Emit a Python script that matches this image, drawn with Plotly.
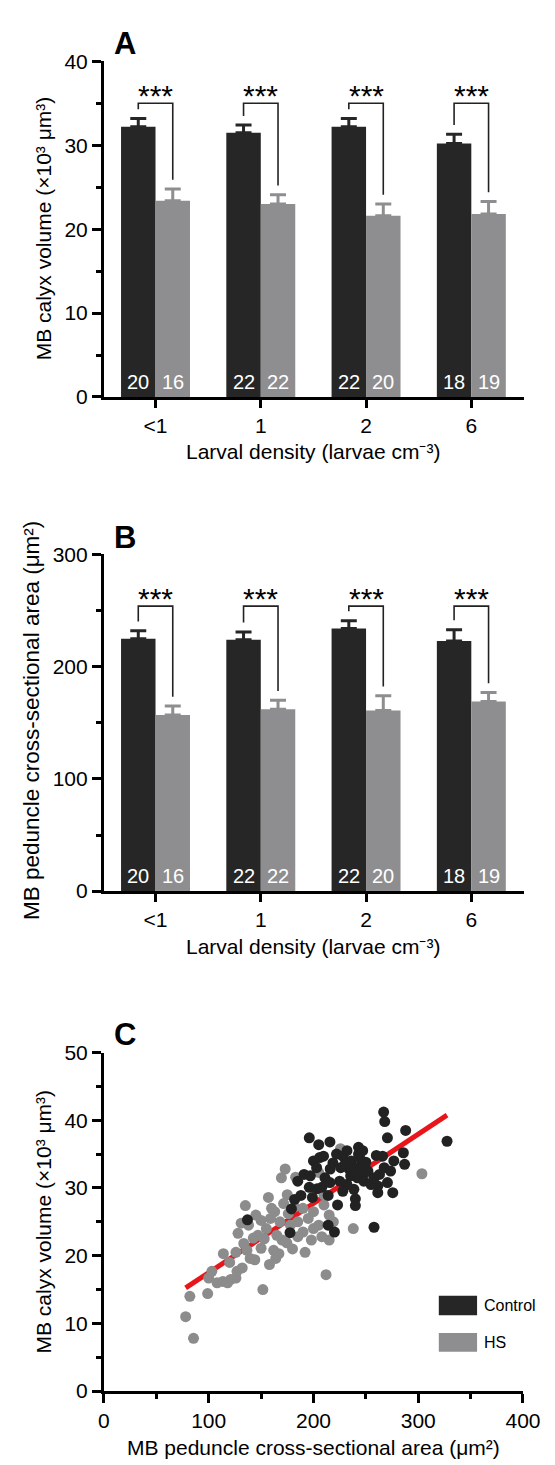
import plotly.graph_objects as go

W, H = 555, 1465

# ---------------- data ----------------
categories = ["<1", "1", "2", "6"]
n_control = [20, 22, 22, 18]
n_hs = [16, 22, 20, 19]
significance = ["***", "***", "***", "***"]

calyx_control = [32.2, 31.5, 32.2, 30.2]
calyx_control_err = [1.0, 0.9, 1.0, 1.1]
calyx_hs = [23.4, 23.0, 21.6, 21.8]
calyx_hs_err = [1.4, 1.1, 1.4, 1.5]

peduncle_control = [225, 224, 234, 223]
peduncle_control_err = [7, 7, 7, 10]
peduncle_hs = [157, 162, 161, 169]
peduncle_hs_err = [8, 8, 13, 8]

control_x = [196, 205, 206, 191, 197, 196, 203.5, 188, 182, 137, 177.6, 179,
             267, 268, 288, 270.6, 215.7, 327.5, 243, 285.8, 209.6, 228, 260, 266,
             276.7, 287, 243, 246, 249, 218.6, 216, 234, 211, 225, 235.5, 267.5,
             273.6, 261.4, 270.6, 275.7, 208, 215.7, 238.6, 261.4, 240, 240, 199,
             214, 214, 220, 257.8, 230, 232, 236, 238, 240, 242, 244, 245, 247, 248,
             250, 252, 226, 222, 200, 255, 258, 263, 232, 228, 185, 223, 203]
control_y = [37.4, 36.4, 34.5, 32.0, 31.8, 30.1, 29.9, 28.9, 28.3, 25.3, 23.4, 26.9,
             41.2, 39.8, 38.5, 37.4, 36.8, 36.9, 36.0, 35.2, 34.7, 34.7, 34.8, 34.7,
             34.0, 33.5, 35.0, 33.5, 32.3, 33.7, 32.8, 32.8, 31.5, 31.0, 31.8, 33.0,
             32.5, 30.3, 30.8, 29.3, 30.1, 30.8, 29.8, 29.3, 28.4, 27.4, 28.6,
             28.9, 24.5, 23.5, 24.2, 33.5, 35.5, 34.0, 32.0, 33.0, 31.5, 34.5, 32.8, 35.5, 31.0,
             33.8, 32.5, 33.0, 35.0, 34.0, 30.5, 31.5, 32.0, 30.5, 29.5, 31.0, 27.5, 33.0]

hs_x = [78, 85.5, 82, 99, 100, 103, 113.6, 121, 126, 114, 126, 133.5, 136.5, 127,
        132, 139.6, 144, 150, 151.7, 155, 159, 147, 142.6, 128, 131, 135, 162, 164,
        158, 170, 174.6, 176, 185, 198, 215, 212, 173, 169.4, 183, 157, 171.5, 182,
        150, 205, 225.8, 254.7, 303.5, 238, 108, 118, 190, 195, 200, 205, 210, 215,
        190, 200, 208, 219, 185, 178, 168, 165, 163, 160, 175, 120, 138, 145, 153,
        180, 192, 167, 210]
hs_y = [11.0, 7.8, 14.0, 14.4, 16.7, 17.7, 16.2, 16.5, 16.7, 20.3, 20.5, 21.8, 20.8, 17.7,
        18.2, 19.6, 19.4, 21.1, 15.0, 24.0, 25.5, 23.0, 22.6, 23.3, 24.8, 27.4, 20.8, 19.6,
        18.7, 22.3, 21.9, 26.2, 22.8, 22.3, 22.3, 17.2, 32.8, 31.5, 31.6, 28.6, 27.7, 27.2,
        25.2, 32.3, 35.8, 31.3, 32.1, 24.0, 16.0, 16.0, 27.0, 25.5, 26.5, 24.5, 27.5, 26.0,
        23.5, 24.0, 22.8, 25.0, 25.0, 24.5, 25.0, 23.0, 26.5, 27.0, 29.0, 19.0, 24.5, 26.0, 22.5,
        21.0, 20.5, 20.3, 29.0]

fit_slope = 0.1023
fit_intercept = 7.26

calyx_title = "MB calyx volume (×10³ μm³)"
ped_title = "MB peduncle cross-sectional area (μm²)"
dens_title = "Larval density (larvae cm⁻³)"

# ---------------- style ----------------
BLACK = "#262626"
GREY = "#8e8e90"
DOT_BLACK = "#222222"
DOT_GREY = "#8c8c8c"
RED = "#e8161b"
FONT = "Arial, 'Liberation Sans', sans-serif"
BARGAP = 0.345


def px_x(p):
    return p / W


def px_y(p):
    return 1 - p / H


X_DOM = [px_x(94), px_x(533)]
XC_DOM = [px_x(94), px_x(532)]
A_DOM = [px_y(383), px_y(42)]
B_DOM = [px_y(885), px_y(543)]
C_DOM = [px_y(1393), px_y(1049)]

fig = go.Figure()
xs = list(range(len(categories)))


def add_bars(ctrl, ctrl_err, hs, hs_err, xa, ya):
    fig.add_trace(go.Bar(x=xs, y=ctrl, marker=dict(color=BLACK, line=dict(width=0)),
                         error_y=dict(type="data", symmetric=False, array=ctrl_err,
                                      arrayminus=[0] * len(ctrl), color=BLACK,
                                      thickness=3, width=8),
                         xaxis=xa, yaxis=ya, showlegend=False))
    fig.add_trace(go.Bar(x=xs, y=hs, marker=dict(color=GREY, line=dict(width=0)),
                         error_y=dict(type="data", symmetric=False, array=hs_err,
                                      arrayminus=[0] * len(hs), color=GREY,
                                      thickness=3, width=8),
                         xaxis=xa, yaxis=ya, showlegend=False))


add_bars(calyx_control, calyx_control_err, calyx_hs, calyx_hs_err, "x", "y")
add_bars(peduncle_control, peduncle_control_err, peduncle_hs, peduncle_hs_err, "x2", "y2")

# regression line then points
all_x = control_x + hs_x
lx = [min(all_x), max(all_x)]
ly = [fit_intercept + fit_slope * v for v in lx]
fig.add_trace(go.Scatter(x=lx, y=ly, mode="lines", line=dict(color=RED, width=5),
                         xaxis="x3", yaxis="y3", showlegend=False))
fig.add_trace(go.Scatter(x=hs_x, y=hs_y, mode="markers",
                         marker=dict(size=11, color=DOT_GREY, line=dict(width=0)),
                         xaxis="x3", yaxis="y3", showlegend=False))
fig.add_trace(go.Scatter(x=control_x, y=control_y, mode="markers",
                         marker=dict(size=11, color=DOT_BLACK, line=dict(width=0)),
                         xaxis="x3", yaxis="y3", showlegend=False))

shapes = []
annotations = []

off = (1 - BARGAP) / 4


def brackets(ctrl, ctrl_err, hs, hs_err, top, gap, xr, yr):
    for i in xs:
        y0 = ctrl[i] + ctrl_err[i] + gap
        y1 = hs[i] + hs_err[i] + gap
        x0 = i - off
        x1 = i + off
        shapes.append(dict(type="path", xref=xr, yref=yr,
                           path=f"M {x0},{y0} L {x0},{top} L {x1},{top} L {x1},{y1}",
                           line=dict(color="#222222", width=1.6)))
        annotations.append(dict(x=i, y=top, xref=xr, yref=yr, text=significance[i],
                                showarrow=False, yanchor="middle", yshift=8,
                                font=dict(size=30, color="black", family=FONT)))
        annotations.append(dict(x=x0, y=0, xref=xr, yref=yr, text=str(n_control[i]),
                                showarrow=False, yanchor="bottom", yshift=2,
                                font=dict(size=20, color="white", family=FONT)))
        annotations.append(dict(x=x1, y=0, xref=xr, yref=yr, text=str(n_hs[i]),
                                showarrow=False, yanchor="bottom", yshift=2,
                                font=dict(size=20, color="white", family=FONT)))


brackets(calyx_control, calyx_control_err, calyx_hs, calyx_hs_err, 35.0, 1.1, "x", "y")
brackets(peduncle_control, peduncle_control_err, peduncle_hs, peduncle_hs_err, 254, 8.3, "x2", "y2")

# legend (drawn)
shapes.append(dict(type="rect", xref="paper", yref="paper",
                   x0=px_x(444), x1=px_x(484), y0=px_y(1316), y1=px_y(1296),
                   fillcolor=BLACK, line=dict(width=0)))
shapes.append(dict(type="rect", xref="paper", yref="paper",
                   x0=px_x(444), x1=px_x(484), y0=px_y(1353), y1=px_y(1334),
                   fillcolor=GREY, line=dict(width=0)))
annotations.append(dict(x=px_x(489), y=px_y(1306), xref="paper", yref="paper", text="Control",
                        showarrow=False, xanchor="left", yanchor="middle",
                        font=dict(size=16, color="black", family=FONT)))
annotations.append(dict(x=px_x(489), y=px_y(1344), xref="paper", yref="paper", text="HS",
                        showarrow=False, xanchor="left", yanchor="middle",
                        font=dict(size=16, color="black", family=FONT)))

# panel letters
for letter, yy in [("A", 24), ("B", 526), ("C", 1031)]:
    annotations.append(dict(x=px_x(116), y=px_y(yy), xref="paper", yref="paper",
                            text=f"<b>{letter}</b>", showarrow=False,
                            xanchor="center", yanchor="middle",
                            font=dict(size=31, color="black", family=FONT)))

# axis titles
for txt, xx, yy, fs in [(calyx_title, 31, 212, 21), (ped_title, 19, 712, 22.5),
                        (calyx_title, 31, 1221, 21)]:
    annotations.append(dict(x=px_x(xx), y=px_y(yy), xref="paper", yref="paper", text=txt,
                            textangle=-90, showarrow=False, xanchor="center", yanchor="middle",
                            font=dict(size=fs, color="black", family=FONT)))
for txt, yy in [(dens_title, 438), (dens_title, 941), (ped_title, 1450)]:
    annotations.append(dict(x=px_x(313), y=px_y(yy), xref="paper", yref="paper", text=txt,
                            showarrow=False, xanchor="center", yanchor="middle",
                            font=dict(size=21, color="black", family=FONT)))


def yax(domain, rng, dtick, mdtick, anchor):
    return dict(domain=domain, range=rng, tick0=0, dtick=dtick, anchor=anchor,
                showline=True, linewidth=3, linecolor="black", ticks="outside",
                ticklen=9, tickwidth=3, tickcolor="black", showgrid=False, zeroline=False,
                minor=dict(ticks="outside", ticklen=5, tickwidth=3, dtick=mdtick, tick0=0,
                           tickcolor="black", showgrid=False),
                tickfont=dict(size=21, color="black", family=FONT), fixedrange=True)


def xcat(domain, anchor):
    return dict(domain=domain, range=[-0.49, 3.5], tickmode="array", tickvals=xs,
                ticktext=categories, anchor=anchor, showline=True, linewidth=3,
                linecolor="black", ticks="outside", ticklen=8, tickwidth=3,
                tickcolor="black", showgrid=False, zeroline=False,
                tickfont=dict(size=21, color="black", family=FONT))


fig.update_layout(
    width=W, height=H, margin=dict(l=0, r=0, t=0, b=0),
    paper_bgcolor="white", plot_bgcolor="white",
    barmode="group", bargap=BARGAP, bargroupgap=0,
    font=dict(family=FONT, color="black"),
    xaxis=xcat(X_DOM, "y"),
    yaxis=yax(A_DOM, [0, 40], 10, 5, "x"),
    xaxis2=xcat(X_DOM, "y2"),
    yaxis2=yax(B_DOM, [0, 300], 100, 50, "x2"),
    xaxis3=dict(domain=XC_DOM, range=[0, 400], tick0=0, dtick=100, anchor="y3",
                showline=True, linewidth=3, linecolor="black", ticks="outside",
                ticklen=9, tickwidth=3, tickcolor="black", showgrid=False, zeroline=False,
                minor=dict(ticks="outside", ticklen=5, tickwidth=3, dtick=50, tick0=0,
                           tickcolor="black", showgrid=False),
                tickfont=dict(size=21, color="black", family=FONT)),
    yaxis3=yax(C_DOM, [0, 50], 10, 5, "x3"),
    shapes=shapes,
    annotations=annotations,
    showlegend=False,
)

fig.write_html("out.html")
